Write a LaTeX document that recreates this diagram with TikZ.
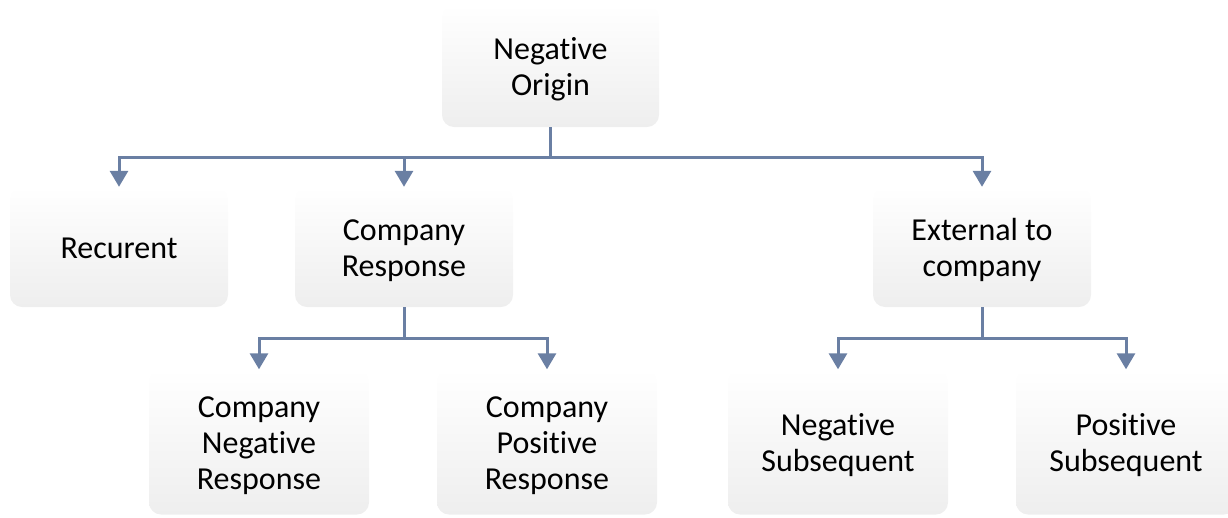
\documentclass[tikz,border=0pt]{standalone}
\usepackage{fontspec}
\setmainfont[Ligatures={NoCommon},RawFeature={-liga;-dlig;-calt}]{Carlito}
\usetikzlibrary{arrows.meta}
\definecolor{lnc}{HTML}{6A7FA3}
\definecolor{boxbot}{HTML}{EEEEEE}
\newcommand\boxtext[1]{\raisebox{-4pt}[\height][\depth]{\begin{tabular}{@{}c@{}}#1\end{tabular}}}
\tikzset{
  box/.style={rounded corners=12pt, top color=white, bottom color=boxbot, draw=none,
    inner sep=0pt, font=\fontsize{32}{36}\selectfont, text=black},
  conn/.style={draw=lnc, line width=3pt},
  arr/.style={conn, -{Triangle[width=18pt,length=16pt]}}
}
\begin{document}
\begin{tikzpicture}[x=1pt,y=-1pt]
\useasboundingbox (0,0) rectangle (1228,517);
\node[box, minimum width=217pt, minimum height=122pt] (orig) at (550.5,66) {\boxtext{Negative\\Origin}};
\node[box, minimum width=218pt, minimum height=120pt] (rec) at (119,247) {\boxtext{Recurent}};
\node[box, minimum width=218pt, minimum height=120pt] (cr) at (404,247) {\boxtext{Company\\Response}};
\node[box, minimum width=218pt, minimum height=120pt] (ext) at (982,247) {\boxtext{External to\\company}};
\node[box, minimum width=220pt, minimum height=145pt] (cnr) at (259,442) {\boxtext{Company\\Negative\\Response}};
\node[box, minimum width=220pt, minimum height=145pt] (cpr) at (547,442) {\boxtext{Company\\Positive\\Response}};
\node[box, minimum width=220pt, minimum height=145pt] (ns) at (838,442) {\boxtext{Negative\\Subsequent}};
\node[box, minimum width=220pt, minimum height=145pt] (ps) at (1126,442) {\boxtext{Positive\\Subsequent}};
\coordinate (j1) at (550.5,157);
\coordinate (j2) at (404,338);
\coordinate (j3) at (982,338);
\draw[conn] (orig.south) -- (j1);
\draw[arr] (j1) -| (rec.north);
\draw[arr] (j1) -| (cr.north);
\draw[arr] (j1) -| (ext.north);
\draw[conn] (cr.south) -- (j2);
\draw[arr] (j2) -| (cnr.north);
\draw[arr] (j2) -| (cpr.north);
\draw[conn] (ext.south) -- (j3);
\draw[arr] (j3) -| (ns.north);
\draw[arr] (j3) -| (ps.north);
\end{tikzpicture}
\end{document}
